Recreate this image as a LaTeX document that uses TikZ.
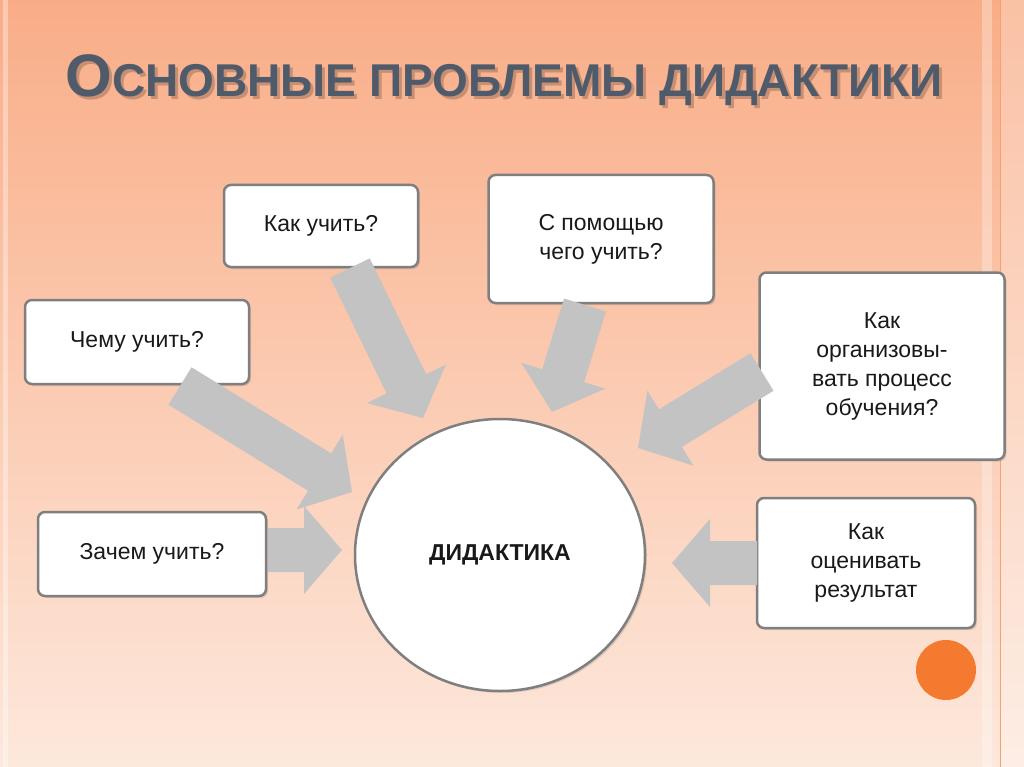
\documentclass[tikz,border=0pt]{standalone}
\usepackage{fontspec}
\setmainfont{Liberation Sans}
\usetikzlibrary{calc,shadows,shapes.geometric}
\definecolor{bgtop}{HTML}{F9AD87}
\definecolor{bgbot}{HTML}{FDE8DC}
\definecolor{titlec}{HTML}{4F5B6A}
\definecolor{arrg}{HTML}{C3C3C3}
\definecolor{bordc}{HTML}{7F7F7F}
\definecolor{orng}{HTML}{F47A30}
\tikzset{
  qbox/.style={draw=bordc,line width=2.5pt,fill=white,rounded corners=7pt,align=center,text=black!90,font=\fontsize{23}{29}\selectfont,drop shadow={shadow xshift=2pt,shadow yshift=-2pt,opacity=0.25}},
}
\newcommand\blockarrow[2]{%
  \fill[arrg] let \p1=($(#2)-(#1)$), \n1={atan2(\y1,\x1)}, \n2={veclen(\x1,\y1)} in
  [shift={(#1)},rotate=\n1] (0pt,-22pt) -- ({\n2-38pt},-22pt) -- ({\n2-38pt},-44pt) -- (\n2,0pt) -- ({\n2-38pt},44pt) -- ({\n2-38pt},22pt) -- (0pt,22pt) -- cycle;}
\begin{document}
\begin{tikzpicture}[x=1pt,y=-1pt]
\useasboundingbox (0,0) rectangle (1024,767);
\shade[top color=bgtop,bottom color=bgbot] (0,0) rectangle (1024,767);
\fill[white,opacity=0.35] (3,0) rectangle (8,767);
\fill[white,opacity=0.3] (982,0) rectangle (992,767);
\fill[white,opacity=0.25] (1001,0) rectangle (1024,767);
\draw[orng!70,line width=1pt] (1000,0) -- (1000,767);
\node[text=black,opacity=0.2,font=\bfseries,anchor=west] at (65,83)
  {\fontsize{60}{60}\selectfont О\fontsize{46}{50}\selectfont СНОВНЫЕ ПРОБЛЕМЫ ДИДАКТИКИ};
\node[text=titlec,font=\bfseries,anchor=west] (title) at (62,80)
  {\fontsize{60}{60}\selectfont О\fontsize{46}{50}\selectfont СНОВНЫЕ ПРОБЛЕМЫ ДИДАКТИКИ};
\node[draw=bordc,line width=2.5pt,fill=white,ellipse,minimum width=290pt,minimum height=272pt,text=black!90,font=\bfseries\fontsize{23}{26}\selectfont,drop shadow={shadow xshift=2pt,shadow yshift=-2pt,opacity=0.25}] (c) at (500,555) {ДИДАКТИКА};
\node[qbox,minimum width=194pt,minimum height=82pt] (b1) at (321,226) {Как учить?};
\node[qbox,minimum width=225pt,minimum height=128pt] (b2) at (601,239) {С помощью\\чего учить?};
\node[qbox,minimum width=224pt,minimum height=84pt] (b3) at (137,342) {Чему учить?};
\node[qbox,minimum width=245pt,minimum height=187pt] (b4) at (882,366) {Как\\организовы-\\вать процесс\\обучения?};
\node[qbox,minimum width=228pt,minimum height=84pt] (b5) at (152,554) {Зачем учить?};
\node[qbox,minimum width=218pt,minimum height=130pt] (b6) at (866,563) {Как\\оценивать\\результат};
\coordinate (a1s) at (350,268); \coordinate (a1e) at (423,418);
\coordinate (a2s) at (585,305); \coordinate (a2e) at (552,412);
\coordinate (a3s) at (180,386); \coordinate (a3e) at (352,492);
\coordinate (a4s) at (762,372); \coordinate (a4e) at (638,448);
\coordinate (a5s) at (268,550); \coordinate (a5e) at (342,550);
\coordinate (a6s) at (757,563); \coordinate (a6e) at (672,563);
\blockarrow{a1s}{a1e}
\blockarrow{a2s}{a2e}
\blockarrow{a3s}{a3e}
\blockarrow{a4s}{a4e}
\blockarrow{a5s}{a5e}
\blockarrow{a6s}{a6e}
\fill[orng] (946,670) circle (30pt);
\end{tikzpicture}
\end{document}
